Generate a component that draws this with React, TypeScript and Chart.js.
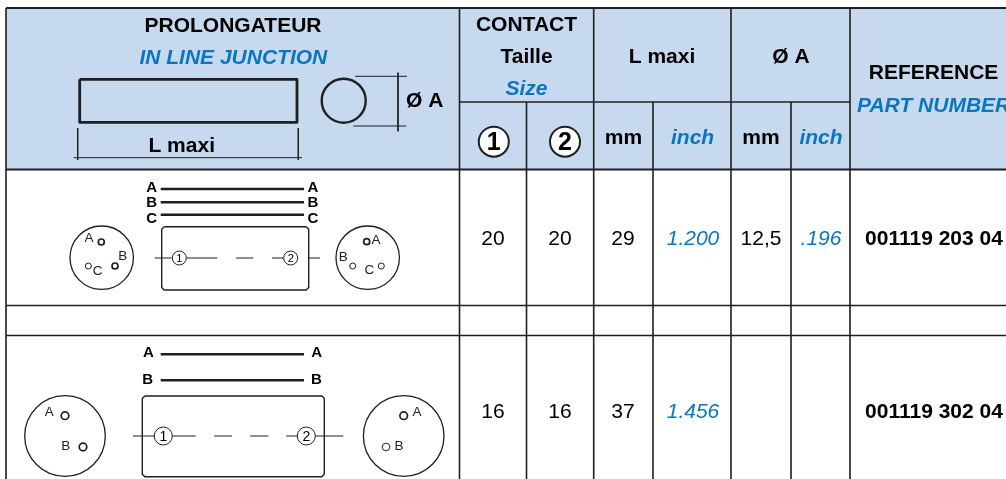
import React, { useEffect, useRef } from "react";
import { Chart, registerables } from "chart.js";

Chart.register(...registerables);

// ---- table content ----
const rowOneValues = ["20", "20", "29", "1.200", "12,5", ".196", "001119 203 04"];
const rowTwoValues = ["16", "16", "37", "1.456", "", "", "001119 302 04"];
const headerTop = ["L maxi", "Ø A"];
const unitLabels = ["mm", "inch", "mm", "inch"];
const contactLabels = ["CONTACT", "Taille", "Size"];
const titleLabels = ["PROLONGATEUR", "IN LINE JUNCTION"];
const refLabels = ["REFERENCE", "PART NUMBER"];

// ---- layout ----
const W = 1006, H = 479;
const INK = "#1f1f1f", BLUE = "#0b76bd", HEAD = "#c6d9ef";
const SANS = '"Liberation Sans", Arial, sans-serif';
const valueCols = [493, 560, 623, 693, 761, 821, 934];
const fullCols = [6, 459.5, 593.7, 731, 850];
const lowerCols = [526.5, 653, 791];
const hRules = [8, 169.5, 305.5, 335.5];

type Txt = { t: string; x: number; y: number; font: string; color?: string; align?: CanvasTextAlign };
const B = (s: number) => `bold ${s}px ${SANS}`;
const BI = (s: number) => `italic bold ${s}px ${SANS}`;
const R = (s: number) => `${s}px ${SANS}`;
const I = (s: number) => `italic ${s}px ${SANS}`;

const layers: any[] = [];
const seg = (x1: number, y1: number, x2: number, y2: number, w = 1, color = INK) =>
  layers.push({
    data: [{ x: x1, y: y1 }, { x: x2, y: y2 }], showLine: true, borderColor: color,
    borderWidth: w, pointRadius: 0, fill: false, borderCapStyle: "butt",
  });
const poly = (pts: number[][], w: number) =>
  layers.push({
    data: pts.map(([x, y]) => ({ x, y })), showLine: true, borderColor: INK, borderWidth: w,
    pointRadius: 0, fill: false, borderJoinStyle: "round",
  });
const ring = (x: number, y: number, r: number, w = 1, fill = "rgba(0,0,0,0)") =>
  layers.push({
    data: [{ x, y }], showLine: false, pointRadius: r, pointBorderWidth: w,
    pointBorderColor: INK, pointBackgroundColor: fill, pointStyle: "circle",
  });
const roundBox = (x1: number, y1: number, x2: number, y2: number, w: number) => {
  const c = 2.5;
  poly([[x1 + c, y1], [x2 - c, y1], [x2, y1 + c], [x2, y2 - c], [x2 - c, y2], [x1 + c, y2], [x1, y2 - c], [x1, y1 + c], [x1 + c, y1]], w);
};

// header band
layers.push({
  data: [{ x: 6, y: 8 }, { x: W, y: 8 }], showLine: true, borderWidth: 0, pointRadius: 0,
  backgroundColor: HEAD, fill: { value: 169.5 },
});
// rules
hRules.forEach((y) => seg(6, y, W, y, y === 305.5 || y === 335.5 ? 1.5 : 2));
fullCols.forEach((x) => seg(x, 8, x, H, 1.6));
lowerCols.forEach((x) => seg(x, 102, x, H, 1.6));
seg(459.5, 102, 850, 102, 1.5);

// header sketch
poly([[79.7, 79.3], [297, 79.3], [297, 122.3], [79.7, 122.3], [79.7, 79.3]], 2.8);
seg(77.7, 128, 77.7, 160, 1); seg(298.3, 128, 298.3, 160, 1); seg(73.7, 157.7, 302, 157.7, 1);
ring(343.7, 100.7, 22, 2.4);
seg(355, 76.3, 407, 76.3, 1); seg(353.3, 126, 406.3, 126, 1); seg(398, 72.7, 398, 131.3, 1);
ring(493.8, 141.7, 15, 2, "#ffffff");
ring(565, 141.7, 15, 2, "#ffffff");

// row 1 sketch
[189, 202.3, 214.7].forEach((y) => seg(160.7, y, 304, y, 2.5));
roundBox(161.7, 226.7, 308.7, 290, 1.4);
ring(101.7, 257.7, 31.7, 1.3); ring(367.7, 257.7, 31.7, 1.3);
[[154.7, 171.7], [186.7, 217.3], [236, 253.3], [272, 283.3], [308.7, 320]].forEach(([a, b]) => seg(a, 258, b, 258, 1));
ring(179.3, 258, 7, 1, "#ffffff"); ring(290.7, 258, 7, 1, "#ffffff");
ring(101.3, 242, 3, 1.7); ring(115, 266, 3, 1.7); ring(88.3, 266, 3, 1);
ring(366.7, 241.7, 3, 1.7); ring(352.7, 266, 3, 1); ring(381.3, 266, 3, 1);

// row 2 sketch
[354.3, 380.3].forEach((y) => seg(160.7, y, 304, y, 2.5));
roundBox(142.3, 396, 324.3, 476.7, 1.4);
ring(65, 436, 40.3, 1.3); ring(403.7, 436, 40.3, 1.3);
[[133, 154.3], [172, 195.7], [214, 232], [250.3, 268.3], [286, 297.3], [315.3, 343.3]].forEach(([a, b]) => seg(a, 436, b, 436, 1));
ring(163.3, 436, 9, 1, "#ffffff"); ring(306.3, 436, 9, 1, "#ffffff");
ring(65, 415.7, 3.8, 1.7); ring(83, 447, 3.8, 1.7);
ring(403.7, 415.7, 3.8, 1.7); ring(386, 447, 3.8, 1);

// texts
const texts: Txt[] = [
  { t: titleLabels[0], x: 233, y: 25, font: B(21) },
  { t: titleLabels[1], x: 233.3, y: 57, font: BI(21), color: BLUE },
  { t: "L maxi", x: 181.7, y: 145, font: B(21) },
  { t: "Ø A", x: 424.7, y: 100, font: B(21) },
  { t: contactLabels[0], x: 526.5, y: 24, font: B(21) },
  { t: contactLabels[1], x: 526.5, y: 56, font: B(21) },
  { t: contactLabels[2], x: 526.5, y: 88, font: BI(21), color: BLUE },
  { t: headerTop[0], x: 662, y: 56, font: B(21) },
  { t: headerTop[1], x: 791, y: 56, font: B(21) },
  { t: refLabels[0], x: 933.6, y: 72.7, font: B(21) },
  { t: refLabels[1], x: 857, y: 105, font: BI(21), color: BLUE, align: "left" },
  { t: "1", x: 493.8, y: 142, font: B(25) },
  { t: "2", x: 565, y: 142, font: B(25) },
  { t: unitLabels[0], x: 623.4, y: 137, font: B(21) },
  { t: unitLabels[1], x: 692.6, y: 137, font: BI(21), color: BLUE },
  { t: unitLabels[2], x: 761, y: 137, font: B(21) },
  { t: unitLabels[3], x: 821, y: 137, font: BI(21), color: BLUE },
  // circled numerals in the sketches
  { t: "1", x: 179.3, y: 258, font: R(11) }, { t: "2", x: 290.7, y: 258, font: R(11) },
  { t: "1", x: 163.3, y: 436, font: R(14) }, { t: "2", x: 306.3, y: 436, font: R(14) },
];
[[151.7, 186.5, "A"], [313, 186.5, "A"], [151.7, 202, "B"], [313, 202, "B"], [151.7, 218, "C"], [313, 218, "C"],
 [148.3, 352, "A"], [316.7, 352, "A"], [147.7, 378.7, "B"], [316.3, 378.7, "B"]].forEach(([x, y, t]) =>
  texts.push({ t: t as string, x: x as number, y: y as number, font: B(15) }));
[[89, 237.7, "A"], [122.7, 255, "B"], [97.7, 270, "C"], [376, 239, "A"], [343.3, 256.3, "B"], [369.3, 269, "C"],
 [49.3, 411.3, "A"], [65.7, 445.7, "B"], [417, 411.7, "A"], [399, 445.3, "B"]].forEach(([x, y, t]) =>
  texts.push({ t: t as string, x: x as number, y: y as number, font: R(13.5), color: "#222222" }));
const cellFont = (i: number) => (i === 6 ? B(21) : i === 3 || i === 5 ? I(21) : R(21));
const cellColor = (i: number) => (i === 3 || i === 5 ? BLUE : "#000000");
[[rowOneValues, 238.2], [rowTwoValues, 411]].forEach(([vals, y]) =>
  (vals as string[]).forEach((t, i) => {
    if (t) texts.push({ t, x: valueCols[i], y: y as number, font: cellFont(i), color: cellColor(i) });
  }));

const textPlugin = {
  id: "tableText",
  afterDatasetsDraw(chart: any) {
    const { ctx, scales } = chart;
    ctx.save();
    ctx.textBaseline = "middle";
    texts.forEach((d) => {
      ctx.font = d.font;
      ctx.fillStyle = d.color || "#000000";
      ctx.textAlign = d.align || "center";
      ctx.fillText(d.t, scales.x.getPixelForValue(d.x), scales.y.getPixelForValue(d.y) + 1);
    });
    ctx.restore();
  },
};

export default function App() {
  const ref = useRef<HTMLCanvasElement>(null);
  useEffect(() => {
    const chart = new Chart(ref.current as HTMLCanvasElement, {
      type: "scatter",
      data: { datasets: [...layers].reverse() },
      options: {
        animation: false,
        responsive: false,
        layout: { padding: 0, autoPadding: false },
        plugins: { legend: { display: false }, tooltip: { enabled: false }, title: { display: false } },
        events: [],
        scales: {
          x: { type: "linear", min: 0, max: W, display: false },
          y: { type: "linear", min: 0, max: H, reverse: true, display: false },
        },
      },
      plugins: [textPlugin],
    } as any);
    return () => chart.destroy();
  }, []);
  return (
    <div style={{ position: "absolute", left: 0, top: 0, width: W, height: H, background: "#fff", overflow: "hidden" }}>
      <canvas ref={ref} width={W} height={H} style={{ display: "block", width: W, height: H }} />
    </div>
  );
}
